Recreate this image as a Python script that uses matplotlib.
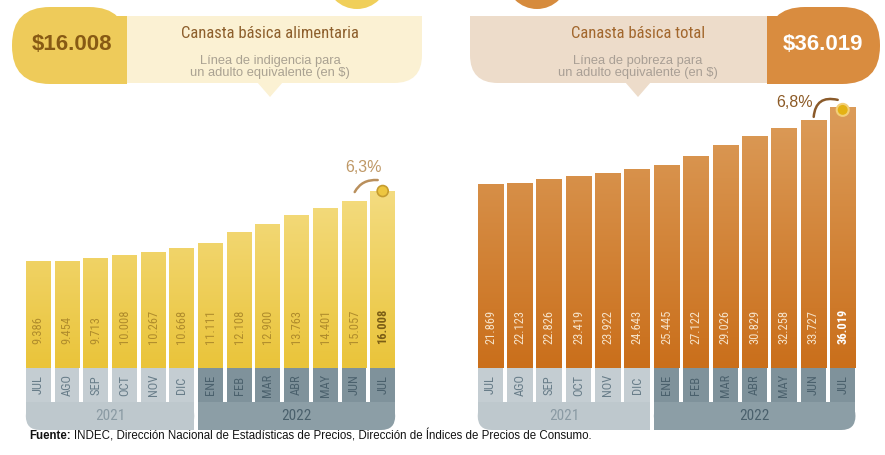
import numpy as np
import matplotlib
matplotlib.use('Agg')
import matplotlib.pyplot as plt
from matplotlib.patches import FancyBboxPatch, Rectangle, Polygon, Circle, PathPatch
from matplotlib.path import Path
from matplotlib.colors import LinearSegmentedColormap

# data
months = ['JUL', 'AGO', 'SEP', 'OCT', 'NOV', 'DIC', 'ENE', 'FEB', 'MAR', 'ABR', 'MAY', 'JUN', 'JUL']
years = ['2021', '2022']
month_year = [0, 0, 0, 0, 0, 0, 1, 1, 1, 1, 1, 1, 1]
cba = [9386, 9454, 9713, 10008, 10267, 10668, 11111, 12108, 12900, 13763, 14401, 15057, 16008]
cbt = [21869, 22123, 22826, 23419, 23922, 24643, 25445, 27122, 29026, 30829, 32258, 33727, 36019]
cba_var = '6,3%'
cbt_var = '6,8%'
cba_title = 'Canasta básica alimentaria'
cba_sub = 'Línea de indigencia para\nun adulto equivalente (en $)'
cbt_title = 'Canasta básica total'
cbt_sub = 'Línea de pobreza para\nun adulto equivalente (en $)'
fuente = 'INDEC, Dirección Nacional de Estadísticas de Precios, Dirección de Índices de Precios de Consumo.'

NARROW = 'Roboto Condensed'
SANS = 'Liberation Sans'

W, H = 885, 455
fig = plt.figure(figsize=(W / 100, H / 100), dpi=100)
fig.patch.set_facecolor('white')


def px_axes(x0, y0, x1, y1, z=1):
    # axes placed by pixel box, y measured from the top
    a = fig.add_axes([x0 / W, 1 - y1 / H, (x1 - x0) / W, (y1 - y0) / H], zorder=z)
    a.axis('off')
    return a


def fmt(v):
    return f'{v:,}'.replace(',', '.')


bg = px_axes(0, 0, W, H, z=0)
bg.set_xlim(0, W)
bg.set_ylim(H, 0)

# ---- header bubbles
yel, cream = '#eecb5a', '#fbf1d3'
org, beige = '#d98c3f', '#eddcca'
bg.add_patch(Circle((357, -22), 31, color='#f0cf5a', lw=0))
bg.add_patch(Circle((537, -22), 31, color='#d68b3d', lw=0))

bg.add_patch(FancyBboxPatch((127, 16), 295, 67, boxstyle='round,pad=0,rounding_size=28', fc=cream, lw=0))
bg.add_patch(Rectangle((127, 16), 150, 67, fc=cream, lw=0))
bg.add_patch(Rectangle((127, 16), 295, 30, fc=cream, lw=0))
bg.add_patch(Polygon([(257, 82), (283, 82), (270, 97)], fc=cream, lw=0))
bg.add_patch(FancyBboxPatch((12, 7), 115, 77, boxstyle='round,pad=0,rounding_size=38', fc=yel, lw=0))
bg.add_patch(Rectangle((70, 16), 57, 68, fc=yel, lw=0))

bg.add_patch(FancyBboxPatch((470, 16), 297, 67, boxstyle='round,pad=0,rounding_size=28', fc=beige, lw=0))
bg.add_patch(Rectangle((618, 16), 149, 67, fc=beige, lw=0))
bg.add_patch(Rectangle((470, 16), 297, 30, fc=beige, lw=0))
bg.add_patch(Polygon([(625, 82), (651, 82), (638, 97)], fc=beige, lw=0))
bg.add_patch(FancyBboxPatch((767, 7), 113, 77, boxstyle='round,pad=0,rounding_size=38', fc=org, lw=0))
bg.add_patch(Rectangle((767, 16), 60, 68, fc=org, lw=0))

bg.text(72, 44, '$' + fmt(cba[-1]), fontsize=16, fontweight='bold', family=SANS,
        color='#875a14', ha='center', va='center')
bg.text(270, 34, cba_title, fontsize=12, family=NARROW, color='#8d5f2c', ha='center', va='center')
bg.text(270, 67, cba_sub, fontsize=9.3, family=SANS, color='#aaa292', ha='center', va='center',
        linespacing=0.95)
bg.text(823, 44, '$' + fmt(cbt[-1]), fontsize=16, fontweight='bold', family=SANS,
        color='white', ha='center', va='center')
bg.text(638, 34, cbt_title, fontsize=12, family=NARROW, color='#a2672d', ha='center', va='center')
bg.text(638, 67, cbt_sub, fontsize=9.3, family=SANS, color='#a99f95', ha='center', va='center',
        linespacing=0.95)

top = px_axes(0, 0, W, H, z=5)
top.set_xlim(0, W)
top.set_ylim(H, 0)

BASE = 368  # pixel row where bars meet the month strip


def panel(values, cx0, pitch, v0, scale, ax_top, colors, lab_c, last_c, strip_c):
    x0, x1 = cx0 - pitch / 2, cx0 + pitch * 12.5
    idx = np.arange(len(values))
    ax = px_axes(x0, ax_top, x1, BASE, z=2)
    ymax = v0 + (BASE - ax_top) / scale
    cmap = LinearSegmentedColormap.from_list('g', colors)
    bars = ax.bar(idx, np.array(values) - v0, bottom=v0, width=0.87, color='none', lw=0)
    for b, v in zip(bars, values):
        g = np.linspace(0, (v - v0) / (ymax - v0), 80).reshape(-1, 1)
        ax.imshow(g, extent=(b.get_x(), b.get_x() + b.get_width(), v0, v), origin='lower',
                  aspect='auto', cmap=cmap, vmin=0, vmax=1, interpolation='bilinear')
    for i, v in enumerate(values):
        last = i == len(values) - 1
        ax.annotate(fmt(v), xy=(i, v0), xytext=(0, 24), textcoords='offset pixels',
                    rotation=90, rotation_mode='anchor', ha='left', va='center',
                    fontsize=9, family=NARROW, color=last_c if last else lab_c,
                    fontweight='bold' if last else 'normal')
    ax.set_xlim(-0.5, 12.5)
    ax.set_ylim(v0, ymax)

    # month cells + year strips
    sx = px_axes(x0, BASE, x1, 430, z=2)
    sx.set_xlim(-0.5, 12.5)
    sx.set_ylim(0, 62)
    cell_c = [strip_c[y][0] for y in month_year]
    sx.bar(idx, 34, bottom=28, width=0.87, color=cell_c, lw=0)
    for i, m in enumerate(months):
        sx.text(i, 45, m, rotation=90, ha='center', va='center', fontsize=9, family=NARROW,
                color=strip_c[month_year[i]][1])
    r = 14 / pitch
    for y, lab in enumerate(years):
        ii = [i for i in idx if month_year[i] == y]
        xa, xb = ii[0] - 0.435, ii[-1] + 0.435
        w = xb - xa
        fc = strip_c[y][2]
        sx.add_patch(FancyBboxPatch((xa, 0), w, 28, boxstyle=f'round,pad=0,rounding_size={r}',
                                    mutation_aspect=pitch, fc=fc, lw=0))
        sx.add_patch(Rectangle((xa, 14), w, 14, fc=fc, lw=0))
        if y == 0:
            sx.add_patch(Rectangle((xa + w / 2, 0), w / 2, 28, fc=fc, lw=0))
        else:
            sx.add_patch(Rectangle((xa, 0), w / 2, 28, fc=fc, lw=0))
        sx.text((xa + xb) / 2, 14, lab, ha='center', va='center', fontsize=11, family=NARROW,
                color=strip_c[y][3])
    # top of the last bar in figure pixels
    dx, dy = ax.transData.transform((idx[-1], values[-1]))
    return dx, H - dy


strips = [('#c4cdd2', '#687d89', '#bec8cd', '#8a9aa3'),
          ('#7f929b', '#4b616d', '#8c9ea6', '#4a606c')]

lx, ly = panel(cba, 38.3, 28.7, -530, 0.0107, 150, ['#eac43a', '#f6e190'],
               '#b08c2c', '#7c5e16', strips)
rx, ry = panel(cbt, 490.5, 29.35, -11800, 0.00544, 90, ['#ca6f1b', '#dd9f5e'],
               '#f6e2c8', 'white', strips)

# variation callouts
top.add_patch(PathPatch(Path([(lx - 28, ly + 1), (lx - 21, ly - 12), (lx - 5, ly - 11)],
                             [Path.MOVETO, Path.CURVE3, Path.CURVE3]),
                        fc='none', ec='#b98f5c', lw=1.8, capstyle='round'))
top.add_patch(Circle((lx, ly), 5.5, fc='#edc640', ec='#c59c30', lw=1.2))
top.text(lx - 19, ly - 24, cba_var, fontsize=11.5, family=SANS, color='#bf9866', ha='center', va='center')

top.add_patch(PathPatch(Path([(rx - 29, ry + 9), (rx - 27, ry - 13), (rx - 5, ry - 8)],
                             [Path.MOVETO, Path.CURVE3, Path.CURVE3]),
                        fc='none', ec='#8a5a2a', lw=1.8, capstyle='round'))
top.add_patch(Circle((rx, ry + 2), 6, fc='#e4b214', ec='#f3cf78', lw=1.5))
top.text(rx - 48, ry - 5.5, cbt_var, fontsize=11.5, family=SANS, color='#8c5a26', ha='center', va='center')

# source line
t1 = bg.text(29, 436, 'Fuente:', fontsize=8.3, fontweight='bold', family=SANS, color='#111111',
             ha='left', va='center')
fig.canvas.draw()
ext = t1.get_window_extent()
bg.text(ext.x1 + 3, 436, fuente, fontsize=8.3, family=SANS, color='#111111', ha='left', va='center')

fig.savefig('out.png', dpi=100)
